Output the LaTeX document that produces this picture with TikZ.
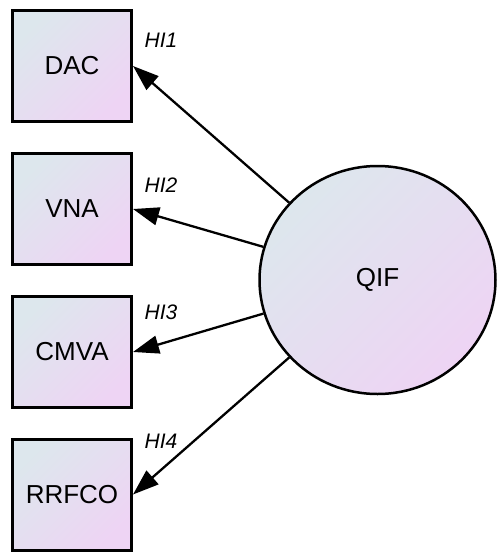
\documentclass[tikz,border=0pt]{standalone}
\usepackage{fontspec}
\setmainfont{Liberation Sans}
\usetikzlibrary{shapes.geometric,arrows.meta}
\definecolor{shadeA}{RGB}{221,231,237}
\definecolor{shadeB}{RGB}{238,212,244}
\begin{document}
\begin{tikzpicture}[x=1pt,y=-1pt,
    obs/.style={rectangle,draw,line width=3pt,minimum width=119pt,minimum height=111pt,inner sep=0pt,
        left color=shadeA,right color=shadeB,shading angle=45,font=\fontsize{26}{30}\selectfont},
    lat/.style={ellipse,draw,line width=2.5pt,minimum width=236pt,minimum height=228pt,inner sep=0pt,
        left color=shadeA,right color=shadeB,shading angle=45,font=\fontsize{26}{30}\selectfont},
    path_lbl/.style={font=\fontsize{21}{24}\selectfont\itshape},
    load/.style={line width=2.3pt,-{Triangle[length=26pt,width=18pt]}}]
    \useasboundingbox (0,0) rectangle (496,552);

    \node[lat] (QIF) at (377.5,280) {QIF} ;

    \node[obs] (DAC) at (72,66) {DAC} ;
    \node[obs] (VNA) at (72,209) {VNA} ;
    \node[obs] (CMVA) at (72,352) {CMVA} ;
    \node[obs] (RRFCO) at (72,494.5) {RRFCO} ;

    \node[path_lbl] (HI1) at (161,40) {HI1} ;
    \node[path_lbl] (HI2) at (161,185.5) {HI2} ;
    \node[path_lbl] (HI3) at (161,312) {HI3} ;
    \node[path_lbl] (HI4) at (161,441) {HI4} ;

    \draw[load] (QIF) -- (DAC.east) ;
    \draw[load] (QIF) -- (VNA.east) ;
    \draw[load] (QIF) -- (CMVA.east) ;
    \draw[load] (QIF) -- (RRFCO.east) ;
\end{tikzpicture}
\end{document}
